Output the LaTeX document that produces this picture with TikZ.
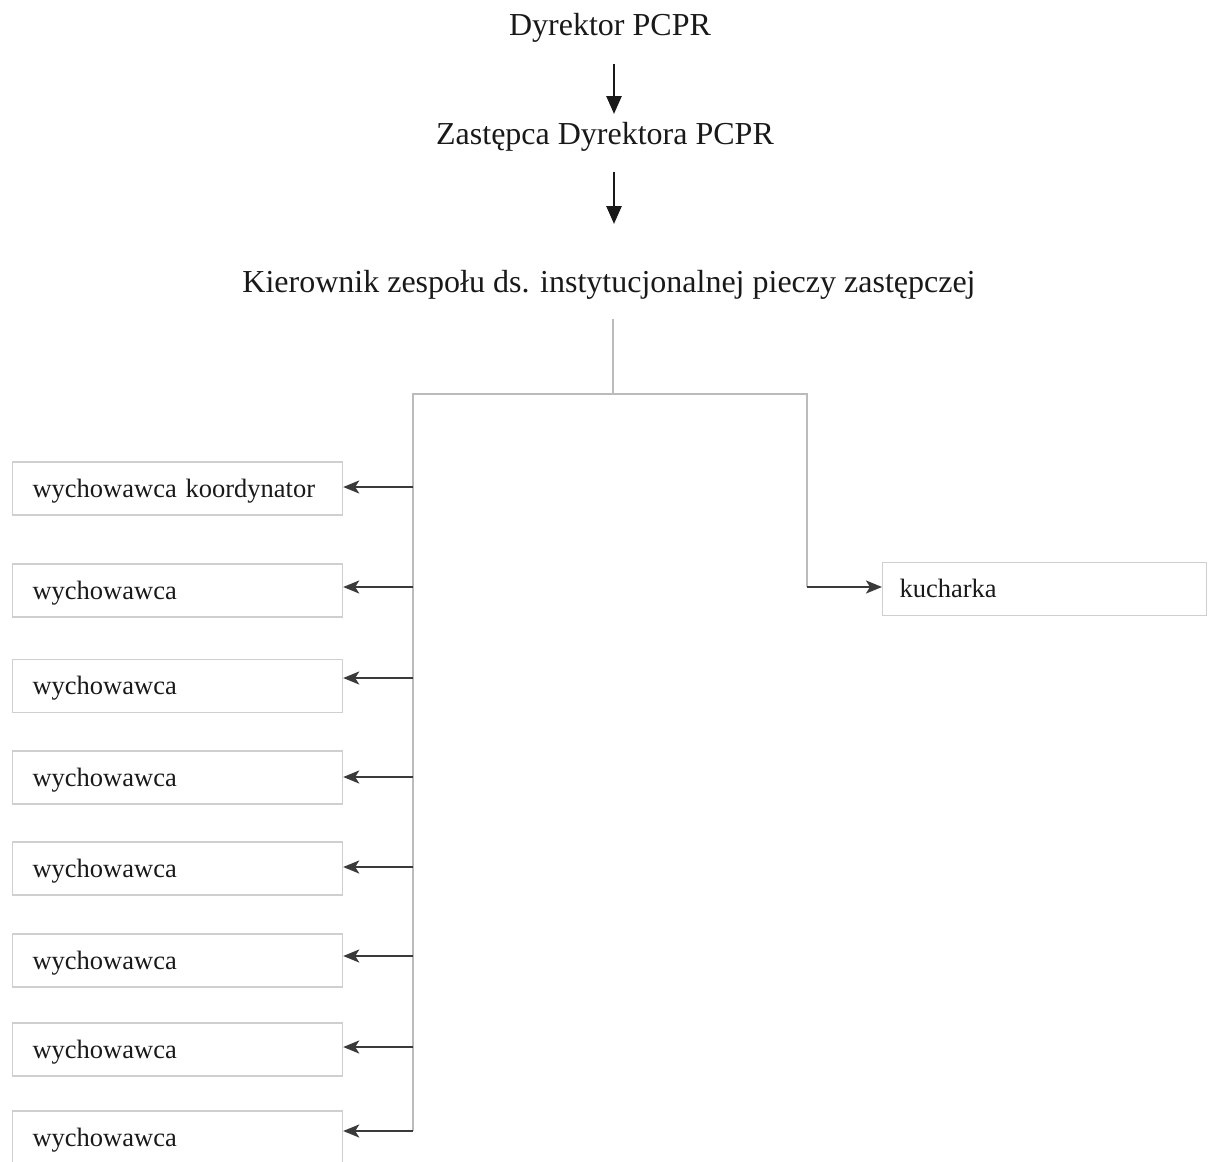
\documentclass[tikz,border=0pt]{standalone}
\usepackage{fontspec}
\setmainfont{Liberation Serif}
\usetikzlibrary{arrows.meta}
\definecolor{boxline}{HTML}{CFCFCF}
\definecolor{connline}{HTML}{BBBBBB}
\definecolor{arrline}{HTML}{3A3A3A}
\begin{document}
\begin{tikzpicture}[x=1pt,y=-1pt,
  title/.style={inner sep=0pt,font=\fontsize{32}{38}\selectfont,text=black!90},
  boxnode/.style={draw=boxline,line width=1.2pt,rectangle,minimum width=330pt,minimum height=53pt,
    text width=290pt,inner xsep=20pt,inner ysep=0pt,align=left,anchor=west,
    text height=22pt,text depth=5pt,
    font=\fontsize{26.5}{32}\selectfont,text=black!90},
  conn/.style={draw=connline,line width=1.3pt},
  sidearrow/.style={draw=arrline,line width=2.2pt,-{Stealth[length=16pt,width=13pt,inset=4pt]}},
  toparrow/.style={draw=black!90,line width=2.6pt,-{Triangle[length=18pt,width=15pt]}}]
\useasboundingbox (0,0) rectangle (1208,1162);
\node[title] (dyr) at (610,28) {Dyrektor PCPR};
\node[title] (zast) at (605,137) {Zastępca Dyrektora PCPR};
\node[title] (kier) at (609,285) {Kierownik zespołu ds. instytucjonalnej pieczy zastępczej};
\coordinate (a1s) at (614,64);
\coordinate (a1e) at (614,114);
\coordinate (a2s) at (614,172);
\coordinate (a2e) at (614,224);
\draw[toparrow] (a1s) -- (a1e);
\draw[toparrow] (a2s) -- (a2e);

% boxes
\node[boxnode] (b1) at (12,488.5) {wychowawca koordynator};
\node[boxnode] (b2) at (12,590.5) {wychowawca};
\node[boxnode] (b3) at (12,686) {wychowawca};
\node[boxnode] (b4) at (12,777.5) {wychowawca};
\node[boxnode] (b5) at (12,868.5) {wychowawca};
\node[boxnode] (b6) at (12,960.5) {wychowawca};
\node[boxnode] (b7) at (12,1049.5) {wychowawca};
\node[boxnode] (b8) at (12,1137.5) {wychowawca};
\node[boxnode,minimum width=324pt,text width=290pt,inner xsep=17pt] (kuch) at (882,589) {kucharka};

% trunk
\coordinate (kb) at (613,319);
\coordinate (hj) at (613,394);
\coordinate (hl) at (413,394);
\coordinate (hr) at (807,394);
\coordinate (t1) at (413,487);
\coordinate (t2) at (413,587);
\coordinate (t3) at (413,678);
\coordinate (t4) at (413,777);
\coordinate (t5) at (413,867);
\coordinate (t6) at (413,956);
\coordinate (t7) at (413,1047);
\coordinate (t8) at (413,1131);
\coordinate (tr) at (807,587);
\draw[conn] (kb) -- (hj);
\draw[conn] (t8) -- (hl) -- (hr) -- (tr);

\foreach \i in {1,...,8}{
  \draw[sidearrow] (t\i) -- (t\i -| b\i.east);
}
\draw[sidearrow] (tr) -- (tr -| kuch.west);
\end{tikzpicture}
\end{document}
